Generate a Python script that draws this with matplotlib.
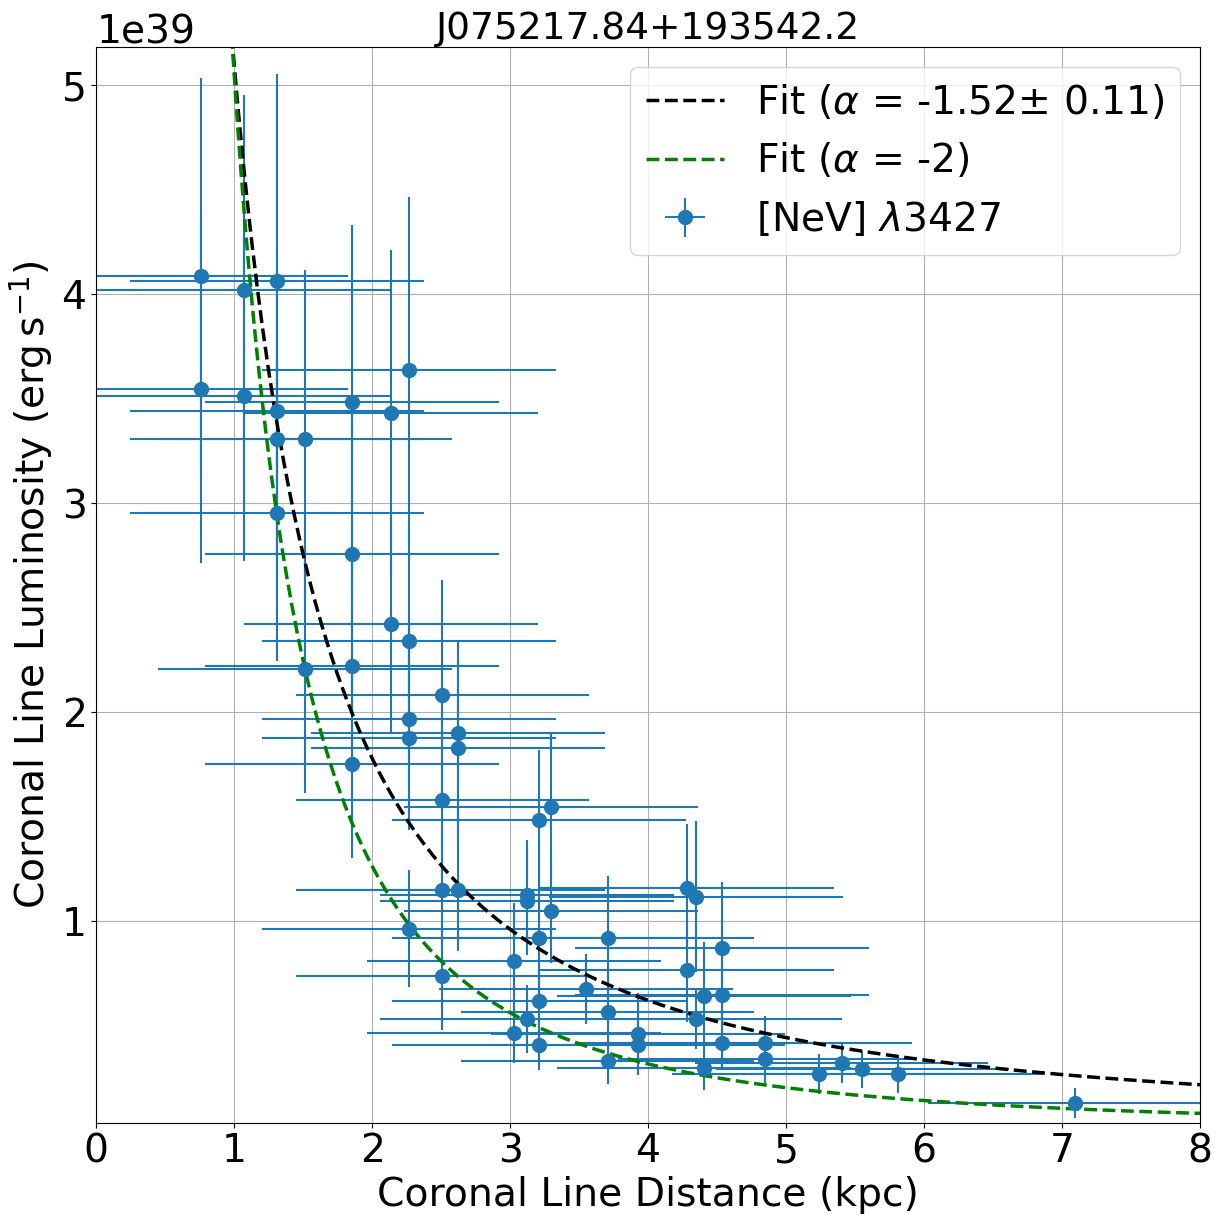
import numpy as np
import matplotlib.pyplot as plt

plt.rcParams['font.size'] = 28.3

# Distanz der Coronal-Linien (kpc)
dist = np.array([0.759, 1.072, 1.309, 0.759, 1.072, 1.852, 1.309, 2.138, 2.27, 1.309,
                 1.512, 1.309, 1.852, 2.138, 2.27, 1.512, 1.852, 2.51, 2.268, 2.623,
                 2.268, 2.623, 1.852, 2.51, 3.297, 3.21, 2.51, 2.623, 3.12, 3.12,
                 3.297, 2.268, 3.21, 3.707, 4.28, 4.347, 4.539, 3.029, 2.51, 4.28,
                 3.548, 4.408, 4.539, 3.21, 3.707, 4.345, 3.12, 3.029, 3.93, 3.93,
                 3.21, 4.539, 4.848, 4.848, 3.707, 4.408, 5.239, 5.403, 5.555, 5.809,
                 7.094])
dist_err = 1.065

# Leuchtkraft in 1e39 erg/s
lum = np.array([4.087, 4.022, 4.064, 3.545, 3.512, 3.482, 3.442, 3.432, 3.636, 3.305,
                3.305, 2.953, 2.756, 2.419, 2.341, 2.204, 2.22, 2.081, 1.965, 1.898,
                1.874, 1.83, 1.75, 1.579, 1.544, 1.483, 1.148, 1.148, 1.124, 1.097,
                1.049, 0.963, 0.917, 0.917, 1.156, 1.117, 0.869, 0.806, 0.737, 0.766,
                0.673, 0.643, 0.646, 0.617, 0.566, 0.533, 0.531, 0.463, 0.459, 0.407,
                0.407, 0.415, 0.415, 0.34, 0.332, 0.295, 0.268, 0.319, 0.29, 0.268,
                0.128])
lum_err = np.array([0.95, 0.93, 0.99, 0.83, 0.79, 0.85, 0.80, 0.78, 0.83, 0.78,
                    0.81, 0.71, 0.65, 0.52, 0.55, 0.59, 0.52, 0.55, 0.46, 0.44,
                    0.44, 0.43, 0.45, 0.38, 0.356, 0.335, 0.29, 0.29, 0.264, 0.26,
                    0.25, 0.28, 0.24, 0.30, 0.307, 0.36, 0.316, 0.28, 0.26, 0.25,
                    0.167, 0.255, 0.20, 0.18, 0.17, 0.145, 0.164, 0.141, 0.196, 0.144,
                    0.12, 0.128, 0.13, 0.114, 0.112, 0.105, 0.095, 0.094, 0.088, 0.09,
                    0.072])

# Fitparameter (Potenzgesetz L = A * d^alpha)
A_fit, alpha_fit = 5.1, -1.52
A_fix, alpha_fix = 5.05, -2.0

fig = plt.figure(figsize=(12.17, 12.15), dpi=100)
ax = fig.add_axes([0.0791, 0.0760, 0.9067, 0.8851])

ax.errorbar(dist, lum * 1e39, xerr=dist_err, yerr=lum_err * 1e39, fmt='o',
            ms=10, color='C0', label=r'[NeV] $\lambda$3427')

xx = np.linspace(dist.min(), 8.5, 400)
ax.plot(xx, A_fit * xx**alpha_fit * 1e39, 'k--', lw=2.5,
        label=r'Fit ($\alpha$ = -1.52$\pm$ 0.11)')
ax.plot(xx, A_fix * xx**alpha_fix * 1e39, '--', color='green', lw=2.5,
        label=r'Fit ($\alpha$ = -2)')

ax.set_xlim(0, 8)
ax.set_ylim(0.0345e39, 5.182e39)
ax.set_xlabel('Coronal Line Distance (kpc)')
ax.set_ylabel(r'Coronal Line Luminosity $(\mathrm{erg\,s^{-1}})$')
ax.set_title('J075217.84+193542.2', fontsize=27)
ax.grid(True)
ax.legend(loc='upper right')

fig.savefig('out.png', dpi=100)
